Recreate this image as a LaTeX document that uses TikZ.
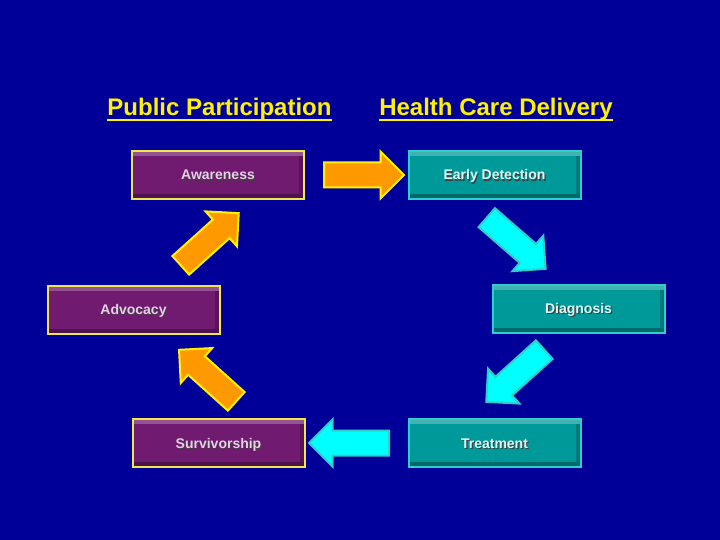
\documentclass[tikz,border=0pt]{standalone}
\usepackage{fontspec}
\setmainfont{Liberation Sans}
\usepackage{tikz}
\usetikzlibrary{shapes.arrows}
\definecolor{slidebg}{RGB}{0,0,153}
\definecolor{plum}{RGB}{112,26,112}
\definecolor{boxteal}{RGB}{0,153,153}
\definecolor{tealedge}{RGB}{51,204,204}
\definecolor{goldedge}{RGB}{240,230,80}
\definecolor{orangefill}{RGB}{255,153,0}
\definecolor{cyanfill}{RGB}{0,255,255}
\definecolor{pinktext}{RGB}{240,200,240}
\definecolor{cyantext}{RGB}{210,255,255}
\newcommand{\ulhead}[1]{\setbox0\hbox{#1}\rlap{\rule[-5pt]{\wd0}{2pt}}\box0}
\newcommand{\shadowed}[1]{\rlap{\hspace{1.2pt}\raisebox{-1.2pt}[0pt][0pt]{\color{black!75}#1}}#1}

\begin{document}
\begin{tikzpicture}[x=1pt, y=-1pt,
  bevel/.style={path picture={
    \fill [white, opacity=.25] ([xshift=1pt, yshift=-1pt]path picture bounding box.north west)
      rectangle ([xshift=-1pt, yshift=-5pt]path picture bounding box.north east);
    \fill [black, opacity=.3] ([xshift=1pt, yshift=1pt]path picture bounding box.south west)
      rectangle ([xshift=-1pt, yshift=5pt]path picture bounding box.south east);
    \fill [black, opacity=.2] ([xshift=-5pt, yshift=-5pt]path picture bounding box.north east)
      rectangle ([xshift=-1pt, yshift=5pt]path picture bounding box.south east);}},
  stage/.style={draw, line width=2pt, minimum width=172pt, minimum height=48pt,
    text height=10pt, text depth=0pt, font=\bfseries\fontsize{14}{16}\selectfont, bevel},
  public/.style={stage, fill=plum, draw=goldedge, text=pinktext},
  delivery/.style={stage, fill=boxteal, draw=tealedge, text=cyantext},
  heading/.style={anchor=base, text=yellow, font=\bfseries\fontsize{24}{28}\selectfont},
  blockarrow/.style={single arrow, anchor=tail, inner xsep=0pt, inner ysep=11.5pt,
    minimum height=80pt, single arrow head extend=11pt, line width=2pt},
  warm/.style={blockarrow, fill=orangefill, draw=yellow},
  cool/.style={blockarrow, fill=cyanfill, draw=tealedge}]
  \fill [slidebg] (0, 0) rectangle (720, 540);

  \node [heading] (pp) at (219.5, 116) {\ulhead{Public Participation}};
  \node [heading] (hc) at (496, 116) {\ulhead{Health Care Delivery}};

  \node [public] (aw) at (218, 175) {\shadowed{Awareness}};
  \node [delivery] (ed) at (494.5, 175) {\shadowed{Early Detection}};
  \node [public] (ad) at (133.5, 309.5) {\shadowed{Advocacy}};
  \node [delivery] (dg) at (578.5, 308.5) {\shadowed{Diagnosis}};
  \node [public] (sv) at (218.5, 443) {\shadowed{Survivorship}};
  \node [delivery] (tr) at (494.5, 443) {\shadowed{Treatment}};

  \node [warm, rotate=0] (awed) at (323, 175) {};
  \node [cool, rotate=-41, minimum height=78pt] (eddg) at (486, 217) {};
  \node [cool, rotate=-138, minimum height=78pt] (dgtr) at (545, 349) {};
  \node [cool, rotate=180] (trsv) at (390, 443) {};
  \node [warm, rotate=138, minimum height=77pt] (svad) at (237, 402) {};
  \node [warm, rotate=42, minimum height=78pt] (adaw) at (180, 266) {};
\end{tikzpicture}
\end{document}
